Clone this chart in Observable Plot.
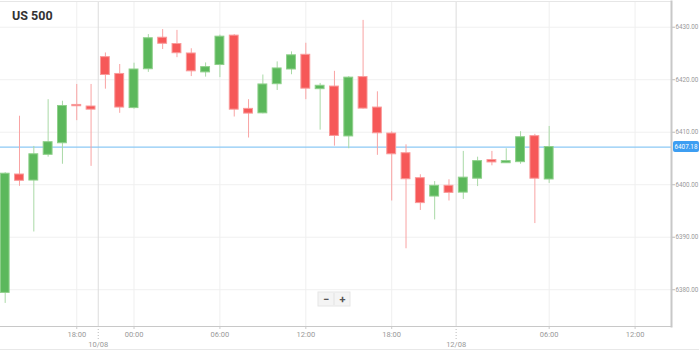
<!DOCTYPE html>
<html><head><meta charset="utf-8">
<script src="https://cdn.jsdelivr.net/npm/d3@7"></script>
<script src="https://cdn.jsdelivr.net/npm/@observablehq/plot@0.6"></script>
<style>
html,body{margin:0;padding:0;background:#fff;}
#chart{width:699px;height:351px;overflow:hidden;}
svg{font-family:Roboto, "Noto Sans", sans-serif;}
</style></head><body><div id="chart"></div>
<script>
const title = "US 500";
// hourly candles, index 1..39
const opens  = [6379.4,6401.95,6400.8,6405.7,6407.9,6415.2,6414.9,6424.3,6421.1,6414.6,6422.0,6428.0,6426.8,6425.0,6421.4,6422.8,6428.4,6414.45,6413.6,6419.15,6421.95,6424.75,6418.2,6418.7,6409.2,6420.5,6414.7,6409.75,6406.0,6401.25,6397.75,6399.8,6398.5,6401.15,6404.7,6404.1,6404.3,6409.25,6401.0];
const highs  = [6402.3,6413.05,6407.3,6416.2,6415.9,6419.1,6419.1,6425.1,6422.9,6423.15,6428.6,6429.55,6429.4,6425.9,6423.2,6428.5,6428.6,6416.2,6420.9,6423.4,6425.3,6426.95,6419.3,6421.6,6420.6,6431.3,6417.7,6410.1,6407.6,6401.9,6400.6,6400.95,6406.35,6405.25,6406.35,6406.85,6410.1,6409.6,6411.1];
const lows   = [6377.4,6399.7,6391.0,6405.25,6403.9,6412.2,6403.5,6418.2,6413.6,6414.4,6421.4,6425.75,6424.2,6420.6,6420.5,6420.4,6412.9,6408.9,6413.5,6417.95,6420.95,6416.2,6410.4,6407.35,6406.85,6414.4,6405.6,6396.9,6387.8,6395.1,6393.3,6396.9,6397.2,6399.65,6403.6,6404.05,6403.9,6392.6,6400.25];
const closes = [6402.1,6400.75,6405.8,6408.1,6415.0,6414.95,6414.3,6420.9,6414.7,6421.95,6427.9,6426.85,6425.05,6421.6,6422.4,6428.2,6414.3,6413.55,6419.1,6422.15,6424.65,6418.3,6418.85,6409.3,6420.4,6414.5,6409.8,6405.8,6401.05,6396.5,6399.8,6398.45,6401.35,6404.5,6404.25,6404.5,6409.05,6401.15,6407.18];
const lastPrice = 6407.18;
const yTicks = [6380,6390,6400,6410,6420,6430];
const timeTicks  = [6,10,16,22,28,39,45];
const timeLabels = ["18:00","00:00","06:00","12:00","18:00","06:00","12:00"];
const dateTicks  = [7.5,32.5];
const dateLabels = ["10/08","12/08"];

const candles = opens.map((o,k)=>({i:k+1,o,h:highs[k],l:lows[k],c:closes[k],up:closes[k]>=o}));
const GREEN="#5cb85c", RED="#f65858", GREEN_W="#a9d9a6", RED_W="#f9a3a3";
const HW = 0.31;

const plot = Plot.plot({
  width:699, height:351,
  marginLeft:0, marginRight:28, marginTop:1, marginBottom:25,
  style:{background:"#fff", fontFamily:"Roboto, 'Noto Sans', sans-serif", overflow:"visible"},
  x:{type:"linear", domain:[0.673,47.544]},
  y:{domain:[6373.0,6434.9]},
  marks:[
    Plot.ruleY(yTicks,{stroke:"#f0f0f0"}),
    Plot.ruleX(timeTicks,{stroke:"#efefef"}),
    Plot.ruleX(dateTicks,{stroke:"#dcdcdc"}),
    Plot.frame({anchor:"top", stroke:"#e6e6e6"}),
    Plot.ruleY([lastPrice],{stroke:"#8cc9f5", strokeWidth:1.2}),
    Plot.ruleX(candles,{x:"i", y1:"l", y2:"h", stroke:d=>d.up?GREEN_W:RED_W, strokeWidth:1}),
    Plot.rect(candles,{x1:d=>d.i-HW, x2:d=>d.i+HW, y1:"o", y2:"c", fill:d=>d.up?GREEN:RED, stroke:d=>d.up?"#8fd08b":"#f99a9a", strokeWidth:1}),
    Plot.axisY(yTicks,{anchor:"right", label:null, tickSize:3, tickPadding:1, fontSize:6.3, color:"#9a9a9a", stroke:"#bbb", tickFormat:d=>d.toFixed(2)}),
    Plot.axisX(timeTicks,{anchor:"bottom", label:null, tickSize:3, tickPadding:2, fontSize:7.5, color:"#999", stroke:"#ccc", tickFormat:(d,k)=>timeLabels[k]}),
    Plot.axisX(dateTicks,{anchor:"bottom", label:null, tickSize:13, tickPadding:2, fontSize:7.5, color:"#999", stroke:"#bbb", strokeDasharray:"1,2", tickFormat:(d,k)=>dateLabels[k]}),
    Plot.frame({anchor:"right", stroke:"#c8c8c8", strokeWidth:2}),
    Plot.frame({anchor:"bottom", stroke:"#c8c8c8", strokeWidth:1.2})
  ]
});
document.getElementById("chart").appendChild(plot);

const svg = d3.select(plot);
const ys = plot.scale("y");
const py = ys.apply(lastPrice);
// current price tag
const tag = svg.append("g");
tag.append("rect").attr("x",673).attr("y",py-5.5).attr("width",26).attr("height",11).attr("rx",2).attr("fill","#3d9ef2");
tag.append("text").attr("x",686).attr("y",py+2.3).attr("text-anchor","middle").attr("font-size",6.3).attr("fill","#fff").text(lastPrice.toFixed(2));
// title
svg.append("text").attr("x",12).attr("y",20).attr("text-anchor","start").attr("font-size",12.5).attr("font-weight","bold").attr("fill","#333").text(title);
// zoom buttons
const zb = svg.append("g");
zb.append("rect").attr("x",318).attr("y",292).attr("width",32).attr("height",14).attr("fill","#f4f4f4").attr("stroke","#e6e6e6");
zb.append("line").attr("x1",334).attr("x2",334).attr("y1",293).attr("y2",305).attr("stroke","#e2e2e2");
zb.append("text").attr("x",326).attr("y",302.5).attr("text-anchor","middle").attr("font-size",11).attr("font-weight","bold").attr("fill","#555").text("−");
zb.append("text").attr("x",342.5).attr("y",302.5).attr("text-anchor","middle").attr("font-size",11).attr("font-weight","bold").attr("fill","#555").text("+");
// footer line
svg.append("line").attr("x1",0).attr("x2",699).attr("y1",349.5).attr("y2",349.5).attr("stroke","#e8e8e8");
</script></body></html>
